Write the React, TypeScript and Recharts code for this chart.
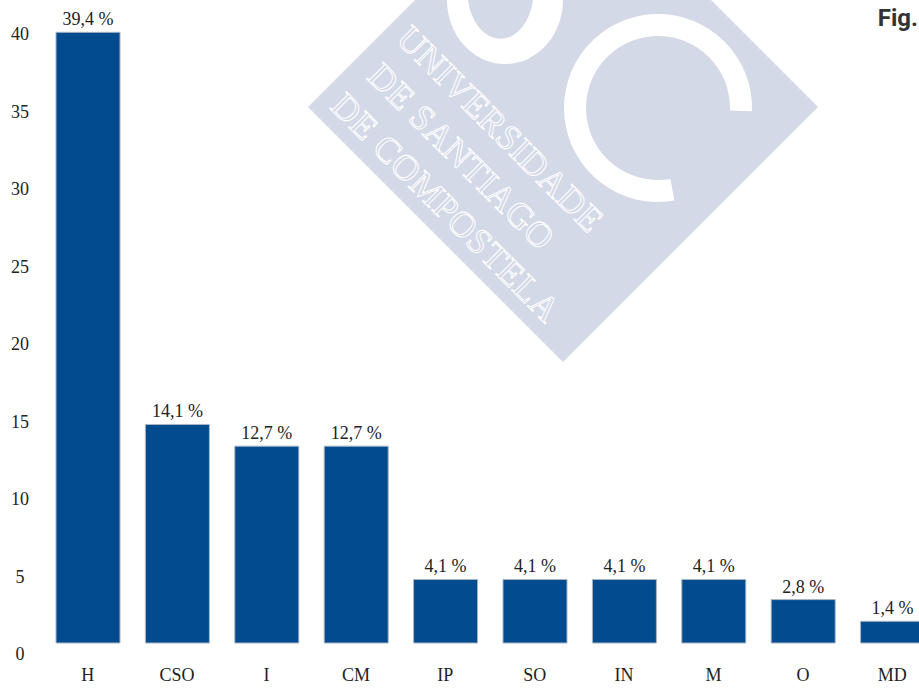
import React from 'react';
import { BarChart, Bar, XAxis, YAxis, LabelList } from 'recharts';

const categories = ['H', 'CSO', 'I', 'CM', 'IP', 'SO', 'IN', 'M', 'O', 'MD'];
const shares = [39.4, 14.1, 12.7, 12.7, 4.1, 4.1, 4.1, 4.1, 2.8, 1.4];
const yTicks = [0, 5, 10, 15, 20, 25, 30, 35, 40];

const data = categories.map((name, i) => ({ name, value: shares[i] }));

const SERIF = '"Liberation Serif", "DejaVu Serif", serif';
const BAR_BLUE = '#024b8f';

const fmt = (v: any) => `${Number(v).toFixed(1).replace('.', ',')} %`;

const YTick = ({ y, payload }: any) => (
  <text x={20} y={y + 11} textAnchor="middle" dominantBaseline="central" fill="#222" fontSize={18} fontFamily={SERIF}>
    {payload.value}
  </text>
);

const XTick = ({ x, y, payload }: any) => (
  <text x={x} y={y + 30} textAnchor="middle" fill="#222" fontSize={18} fontFamily={SERIF}>
    {payload.value}
  </text>
);

// faint university logo behind the chart
const Watermark = () => {
  const cx = 658, cy = 108, R = 94, r = 72;
  const pt = (rad: number, deg: number) => {
    const a = (deg * Math.PI) / 180;
    return `${cx + rad * Math.cos(a)},${cy + rad * Math.sin(a)}`;
  };
  const cPath = `M${pt(R, 80)} A${R},${R} 0 1 1 ${pt(R, 2)} L${pt(r, 2)} A${r},${r} 0 1 0 ${pt(r, 80)} Z`;
  const sPath = 'M447,0 A58,64 0 0 0 563,0 L533,0 A33,47 0 0 1 468,0 Z';
  return (
    <svg width={919} height={691} style={{ position: 'absolute', left: 0, top: 0 }}>
      <polygon points="563,-148 818,107 563,362 308,107" fill="#d3d9e7" />
      <path d={sPath} fill="#ffffff" />
      <path d={cPath} fill="#ffffff" />
      <g transform="translate(563,107) rotate(45)" fill="none" stroke="#ffffff" strokeWidth={1} fontFamily={SERIF} fontSize={36}>
        <text x={-166} y={72} textLength={274} lengthAdjust="spacing">UNIVERSIDADE</text>
        <text x={-160} y={119} textLength={246} lengthAdjust="spacing">DE SANTIAGO</text>
        <text x={-165} y={166} textLength={306} lengthAdjust="spacing">DE COMPOSTELA</text>
      </g>
    </svg>
  );
};

export default function App() {
  return (
    <div style={{ position: 'fixed', left: 0, top: 0, width: 919, height: 691, overflow: 'hidden', background: '#fff' }}>
      <Watermark />
      <div style={{ position: 'absolute', left: 0, top: 0 }}>
        <BarChart width={937} height={691} data={data} margin={{ top: 23, right: 0, bottom: 0, left: 0 }}>
          <XAxis dataKey="name" axisLine={false} tickLine={false} height={48} interval={0} tick={<XTick />} />
          <YAxis domain={[0, 40]} ticks={yTicks} axisLine={false} tickLine={false} width={43} tick={<YTick />} />
          <Bar dataKey="value" fill={BAR_BLUE} stroke="#aab4c3" strokeWidth={1} barSize={64} isAnimationActive={false}>
            <LabelList dataKey="value" position="top" offset={7} formatter={fmt} fill="#222" fontSize={18} fontFamily={SERIF} />
          </Bar>
        </BarChart>
      </div>
      <div style={{ position: 'absolute', right: 1, top: 4, font: 'bold 24px Roboto, "Liberation Sans", sans-serif', color: '#333', whiteSpace: 'nowrap' }}>
        Fig.
      </div>
    </div>
  );
}
